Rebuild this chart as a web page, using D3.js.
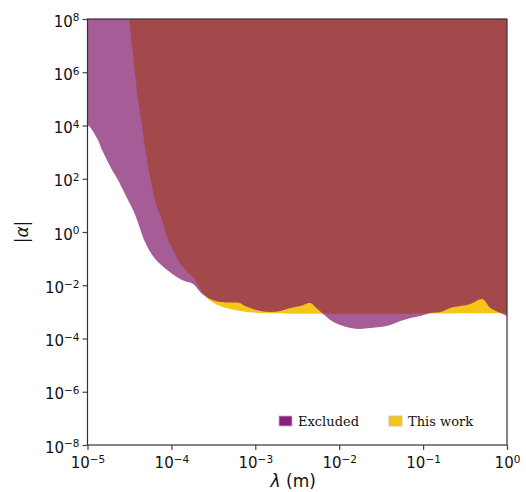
<!DOCTYPE html>
<html>
<head>
<meta charset="utf-8">
<script src="https://cdn.jsdelivr.net/npm/d3@7"></script>
<style>
  body { margin: 0; background: #fff; }
  text { font-family: "DejaVu Sans", sans-serif; fill: #111; }
</style>
</head>
<body>
<svg width="526" height="492"></svg>
<script>

// Curva de exclusión previa (morado): lambda (m) y |alpha|
var excludedLambda = [1.00e-5, 1.07e-5, 1.33e-5, 1.49e-5, 1.71e-5, 1.96e-5, 2.31e-5, 2.65e-5,
  3.04e-5, 3.49e-5, 3.90e-5, 4.28e-5, 4.72e-5, 5.42e-5, 6.56e-5, 8.89e-5, 1.34e-4, 1.82e-4,
  2.20e-4, 2.52e-4, 2.90e-4, 3.81e-4, 6.61e-4, 7.18e-4, 8.69e-4, 1.15e-3, 1.51e-3, 1.99e-3,
  2.61e-3, 3.44e-3, 4.52e-3, 5.33e-3, 6.46e-3, 7.83e-3, 1.03e-2, 1.36e-2, 1.79e-2, 2.35e-2,
  3.09e-2, 4.07e-2, 5.36e-2, 7.06e-2, 9.29e-2, 0.122, 0.161, 0.211, 0.279, 0.366, 0.509,
  0.635, 0.836, 1.0];
var excludedAlpha = [1.05e4, 8.7e3, 2.85e3, 1.2e3, 5.0e2, 2.13e2, 89.7, 37.8,
  15.9, 6.70, 2.82, 1.19, 0.501, 0.211, 0.0887, 0.0374, 0.0157, 0.0111,
  5.57e-3, 3.94e-3, 3.05e-3, 2.35e-3, 2.15e-3, 1.81e-3, 1.40e-3, 1.08e-3, 9.9e-4, 1.08e-3,
  1.40e-3, 1.66e-3, 2.15e-3, 1.40e-3, 8.3e-4, 4.95e-4, 3.21e-4, 2.48e-4, 2.28e-4, 2.48e-4,
  2.70e-4, 3.21e-4, 4.54e-4, 5.89e-4, 7.0e-4, 9.08e-4, 9.9e-4, 1.40e-3, 1.66e-3, 1.98e-3, 3.05e-3,
  1.40e-3, 9.08e-4, 7.0e-4];

// Curva de este trabajo (amarillo)
var thisWorkLambda = [2.95e-5, 3.13e-5, 4.01e-5, 4.35e-5, 5.13e-5, 6.38e-5, 6.93e-5, 7.74e-5, 8.41e-5,
  9.14e-5, 1.05e-4, 1.20e-4, 1.46e-4, 1.92e-4, 2.20e-4, 2.59e-4, 3.06e-4, 3.81e-4, 5.01e-4,
  6.61e-4, 1.15e-3, 1.0];
var thisWorkAlpha = [5e8, 1e8, 9.1e4, 1.61e4, 506, 15.9, 6.70, 2.82, 1.19,
  0.501, 0.211, 0.0887, 0.0374, 0.0157, 7.23e-3, 3.62e-3, 2.35e-3, 1.66e-3, 1.28e-3,
  1.08e-3, 9.08e-4, 9.08e-4];

// Ticks
var xTicks = [1e-5, 1e-4, 1e-3, 1e-2, 1e-1, 1];
var xTickExp = ["\u22125", "\u22124", "\u22123", "\u22122", "\u22121", "0"];
var yTicks = [1e-8, 1e-6, 1e-4, 1e-2, 1, 1e2, 1e4, 1e6, 1e8];
var yTickExp = ["\u22128", "\u22126", "\u22124", "\u22122", "0", "2", "4", "6", "8"];

var legendLabels = ["Excluded", "This work"];
var legendColors = ["#8b1e7a", "#f5c518"];

// Variables
var margin = { top: 19, right: 19, bottom: 47, left: 87.5 },
  width = 526 - margin.left - margin.right,
  height = 492 - margin.top - margin.bottom;

var svg = d3.select('svg');
var g = svg.append('g').attr('transform', 'translate(' + margin.left + ',' + margin.top + ')');

// Escalas
var x = d3.scaleLog().domain([1e-5, 1]).range([0, width]);
var y = d3.scaleLog().domain([1e-8, 1e8]).range([height, 0]);

g.append('clipPath').attr('id', 'clip')
  .append('rect').attr('width', width).attr('height', height);

var area = d3.area()
  .curve(d3.curveCatmullRom.alpha(0.5))
  .x(function (d) { return x(d[0]); })
  .y0(function (d) { return y(d[1]); })
  .y1(-20);

var plot = g.append('g').attr('clip-path', 'url(#clip)');

plot.append('path')
  .datum(d3.zip(thisWorkLambda, thisWorkAlpha))
  .attr('d', area)
  .attr('fill', '#f5c518');

plot.append('path')
  .datum(d3.zip(excludedLambda, excludedAlpha))
  .attr('d', area)
  .attr('fill', '#7c0f64')
  .attr('fill-opacity', 0.68);

// Ejes
function supLabel(sel, exp) {
  sel.append('tspan').text('10');
  sel.append('tspan').attr('dy', '-0.5em').attr('font-size', '10.5px').text(exp);
}

var xAxis = g.append('g')
  .attr('transform', 'translate(0,' + height + ')')
  .call(d3.axisBottom(x).tickValues(xTicks).tickSize(5).tickFormat(''));
xAxis.selectAll('.tick text').remove();
xAxis.selectAll('.tick').append('text')
  .attr('y', 23)
  .attr('text-anchor', 'middle')
  .attr('font-size', '15px')
  .each(function (d, i) { supLabel(d3.select(this), xTickExp[i]); });

var yAxis = g.append('g')
  .call(d3.axisLeft(y).tickValues(yTicks).tickSize(5).tickFormat(''));
yAxis.selectAll('.tick text').remove();
yAxis.selectAll('.tick').append('text')
  .attr('x', -8)
  .attr('y', 7)
  .attr('text-anchor', 'end')
  .attr('font-size', '15px')
  .each(function (d, i) { supLabel(d3.select(this), yTickExp[i]); });

g.selectAll('.domain').remove();
g.selectAll('.tick line').attr('stroke', '#444').attr('stroke-width', 1.2);

// Marco
g.append('rect')
  .attr('width', width).attr('height', height)
  .attr('fill', 'none').attr('stroke', '#333').attr('stroke-width', 1.2);

// Títulos de ejes
var xl = svg.append('text')
  .attr('x', margin.left + width / 2 - 4)
  .attr('y', 487)
  .attr('text-anchor', 'middle')
  .attr('font-size', '17px');
xl.append('tspan').attr('font-style', 'italic').text('\u03bb');
xl.append('tspan').text(' (m)');

var yl = svg.append('text')
  .attr('transform', 'translate(28,' + (margin.top + height / 2) + ') rotate(-90)')
  .attr('text-anchor', 'middle')
  .attr('font-size', '17px');
yl.append('tspan').text('|');
yl.append('tspan').attr('font-style', 'italic').text('\u03b1');
yl.append('tspan').text('|');

// Leyenda
var legendX = [279, 389];
var legend = svg.selectAll('.legend')
  .data(legendLabels)
  .enter().append('g')
  .attr('transform', function (d, i) { return 'translate(' + legendX[i] + ',416)'; });

legend.append('rect')
  .attr('width', 13).attr('height', 10)
  .attr('fill', function (d, i) { return legendColors[i]; })
  .attr('stroke', '#bbb').attr('stroke-width', 0.8);

legend.append('text')
  .attr('x', 19).attr('y', 10)
  .attr('font-size', '13px')
  .style('font-family', '"DejaVu Serif", serif')
  .text(function (d) { return d; });

</script>
</body>
</html>
